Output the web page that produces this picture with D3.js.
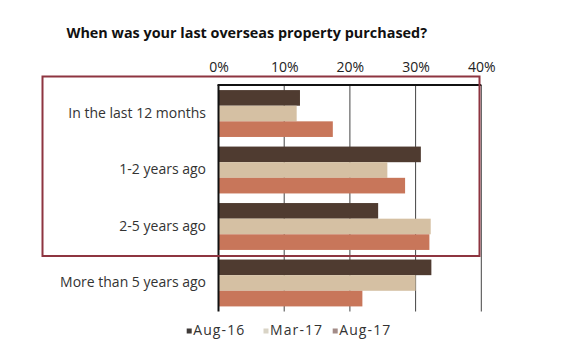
<!DOCTYPE html>
<html>
<head>
<meta charset="utf-8">
<script src="https://cdn.jsdelivr.net/npm/d3@7"></script>
<style>
  html, body { margin: 0; padding: 0; background: #ffffff; }
  svg { display: block; }
  text { font-family: "Open Sans", "Noto Sans", sans-serif; }
</style>
</head>
<body>
<svg id="chart" width="565" height="349"></svg>
<script>
// Survey periods and answer categories
const categories = ["In the last 12 months", "1-2 years ago", "2-5 years ago", "More than 5 years ago"];
const seriesNames = ["Aug-16", "Mar-17", "Aug-17"];
const aug16 = [12.4, 30.8, 24.3, 32.4];
const mar17 = [11.9, 25.7, 32.3, 30.0];
const aug17 = [17.4, 28.4, 32.1, 21.9];
const tickValues = [0, 10, 20, 30, 40];
const tickLabels = ["0%", "10%", "20%", "30%", "40%"];

const barColors = ["#4f3b30", "#d5c0a3", "#c8765a"];
const legendColors = ["#3f3a38", "#d9d4c6", "#a38c88"];

const seriesValues = [aug16, mar17, aug17];
const rows = categories.map((c, i) => ({
  category: c,
  values: seriesNames.map((s, j) => ({ series: s, value: seriesValues[j][i] }))
}));

const svg = d3.select("#chart");

const plotLeft = 218.5, plotRight = 481.3, plotTop = 85, plotBottom = 311.5;

const x = d3.scaleLinear().domain([0, 40]).range([plotLeft, plotRight]);
const y = d3.scaleBand().domain(categories).range([plotTop, plotBottom])
  .paddingInner(0.17).paddingOuter(0.09);
const ySub = d3.scaleBand().domain(seriesNames).range([0, y.bandwidth()]);

// Title
svg.append("text")
  .attr("x", 66.5).attr("y", 38)
  .attr("font-size", 14.4).attr("font-weight", "bold").attr("fill", "#111")
  .text("When was your last overseas property purchased?");

// Vertical gridlines
svg.append("g").selectAll("line")
  .data(tickValues.slice(1))
  .join("line")
  .attr("x1", d => x(d)).attr("x2", d => x(d))
  .attr("y1", plotTop).attr("y2", plotBottom)
  .attr("stroke", "#444").attr("stroke-width", 1);

// Top axis with percent labels
const xAxis = d3.axisTop(x)
  .tickValues(tickValues)
  .tickFormat((d, i) => tickLabels[i])
  .tickSize(0).tickPadding(13.5);
const ax = svg.append("g").attr("transform", `translate(0,${plotTop})`).call(xAxis);
ax.select(".domain").remove();
ax.selectAll("text")
  .attr("font-family", "Open Sans, Noto Sans, sans-serif")
  .attr("font-size", 14).attr("fill", "#222");

// Bars
const groups = svg.append("g").selectAll("g")
  .data(rows)
  .join("g")
  .attr("transform", d => `translate(0,${y(d.category)})`);

groups.selectAll("rect")
  .data(d => d.values)
  .join("rect")
  .attr("x", x(0))
  .attr("y", d => ySub(d.series))
  .attr("width", d => x(d.value) - x(0))
  .attr("height", ySub.bandwidth())
  .attr("fill", (d, i) => barColors[i]);

// Axis lines: top edge and left edge
svg.append("line")
  .attr("x1", plotLeft - 1).attr("x2", plotRight)
  .attr("y1", plotTop).attr("y2", plotTop)
  .attr("stroke", "#111").attr("stroke-width", 2);
svg.append("line")
  .attr("x1", plotLeft).attr("x2", plotLeft)
  .attr("y1", plotTop).attr("y2", plotBottom)
  .attr("stroke", "#111").attr("stroke-width", 2);

// Category labels
const yAxis = d3.axisLeft(y).tickSize(0).tickPadding(12.5);
const ay = svg.append("g").attr("transform", `translate(${x(0)},0)`).call(yAxis);
ay.select(".domain").remove();
ay.selectAll("text")
  .attr("font-family", "Open Sans, Noto Sans, sans-serif")
  .attr("font-size", 14).attr("fill", "#333");

// Highlight frame around the first three categories
svg.append("rect")
  .attr("x", 42.5).attr("y", 76.5)
  .attr("width", 479.5 - 42.5).attr("height", 256 - 76.5)
  .attr("fill", "none")
  .attr("stroke", "#8e3540").attr("stroke-width", 2);

// Legend
const legendX = [186.7, 263.5, 332.7];
const legend = svg.append("g").selectAll("g")
  .data(seriesNames)
  .join("g")
  .attr("transform", (d, i) => `translate(${legendX[i]},335)`);
legend.append("rect")
  .attr("x", 0).attr("y", -6.5).attr("width", 5).attr("height", 5)
  .attr("fill", (d, i) => legendColors[i]);
legend.append("text")
  .attr("x", 6.5).attr("y", 0)
  .attr("font-size", 14).attr("letter-spacing", 1.1).attr("fill", "#333")
  .text(d => d);
</script>
</body>
</html>
